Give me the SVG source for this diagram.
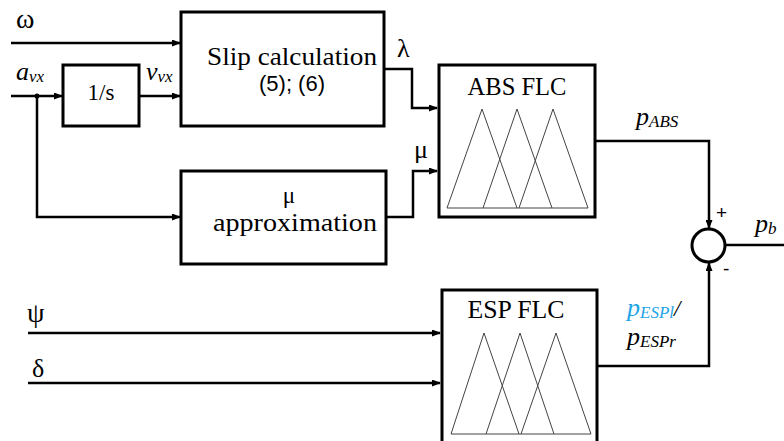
<svg xmlns="http://www.w3.org/2000/svg" width="784" height="441" viewBox="0 0 784 441">
  <defs>
    <marker id="arrow" markerUnits="userSpaceOnUse" markerWidth="9" markerHeight="7" refX="8" refY="3.5" orient="auto">
      <path d="M0,0 L9,3.5 L0,7 z" fill="#000"/>
    </marker>
  </defs>
  <style>
    .box { fill: #fff; stroke: #000; stroke-width: 3; }
    .wire { fill: none; stroke: #000; stroke-width: 2.5; }
    .arr { marker-end: url(#arrow); }
    .mf { fill: none; stroke: #444; stroke-width: 1; }
    .serif { font-family: "Liberation Serif", "DejaVu Serif", serif; fill: #000; }
    .sans { font-family: "Liberation Sans", Arial, sans-serif; fill: #000; }
    .it { font-style: italic; }
    .blue { fill: #1ea5e6; }
  </style>
  <rect width="784" height="441" fill="#fff"/>

  <!-- signal lines -->
  <g id="connectors">
    <path class="wire arr" d="M11,43 H180"/>
    <path class="wire arr" d="M11,96 H62"/>
    <circle cx="37" cy="96" r="2.5" fill="#000"/>
    <path class="wire arr" d="M37,96 V217 H180"/>
    <path class="wire arr" d="M139,96 H180"/>
    <path class="wire arr" d="M384,69 H412 V108 H437"/>
    <path class="wire arr" d="M386,217 H413 V171 H437"/>
    <path class="wire arr" d="M595,141 H709 V228"/>
    <path class="wire arr" d="M597,366 H709 V263"/>
    <path class="wire" d="M725,245 H784"/>
    <path class="wire arr" d="M28,333 H440"/>
    <path class="wire arr" d="M28,383 H440"/>
  </g>

  <!-- signal labels -->
  <g id="labels">
    <text class="serif" x="16" y="28" font-size="28">ω</text>
    <text class="serif it" x="16" y="80" font-size="26">a<tspan font-size="17" dy="2">vx</tspan></text>
    <text class="serif it" x="146" y="80" font-size="26">v<tspan font-size="17" dy="2">vx</tspan></text>
    <text class="serif" x="397" y="57" font-size="26">λ</text>
    <text class="serif" x="414" y="158" font-size="26">μ</text>
    <text class="serif it" x="636" y="125" font-size="26">p<tspan font-size="17" dy="2">ABS</tspan></text>
    <text class="serif it" x="755" y="232" font-size="26">p<tspan font-size="17" dy="2">b</tspan></text>
    <text class="sans" x="716" y="219" font-size="19">+</text>
    <text class="sans" x="723" y="275" font-size="19">-</text>
    <text class="serif it" x="627" y="316" font-size="26"><tspan class="blue">p</tspan><tspan class="blue" font-size="17" dy="2">ESPl</tspan><tspan dy="-2" font-size="23">/</tspan></text>
    <text class="serif it" x="627" y="345" font-size="26">p<tspan font-size="17" dy="2">ESPr</tspan></text>
    <text class="serif" x="27" y="322" font-size="28">ψ</text>
    <text class="serif" x="32" y="377" font-size="26">δ</text>
  </g>

  <g id="integrator">
    <rect class="box" x="63" y="65" width="76" height="61"/>
    <text class="serif" x="101" y="100" font-size="23" text-anchor="middle">1/s</text>
  </g>

  <g id="slip">
    <rect class="box" x="181" y="12" width="203" height="114"/>
    <text class="serif" x="292" y="65" font-size="26" text-anchor="middle" textLength="170" lengthAdjust="spacingAndGlyphs">Slip calculation</text>
    <text class="sans" x="292" y="91" font-size="22" text-anchor="middle">(5); (6)</text>
  </g>

  <g id="mu-approx">
    <rect class="box" x="181" y="171" width="205" height="93"/>
    <text class="serif" x="289" y="203" font-size="23" text-anchor="middle">μ</text>
    <text class="serif" x="295" y="231" font-size="26" text-anchor="middle" textLength="164" lengthAdjust="spacingAndGlyphs">approximation</text>
  </g>

  <g id="abs-flc">
    <rect class="box" x="439" y="65" width="156" height="152"/>
    <text class="serif" x="517" y="95" font-size="25" text-anchor="middle" textLength="99" lengthAdjust="spacingAndGlyphs">ABS FLC</text>
    <path class="mf" d="M447,208 L482,109 L517,208 M483,208 L517,109 L552,208 M519,208 L553,109 L588,208 M447,208 H588"/>
  </g>

  <g id="esp-flc">
    <rect class="box" x="442" y="290" width="155" height="160"/>
    <text class="serif" x="516" y="318" font-size="25" text-anchor="middle" textLength="97" lengthAdjust="spacingAndGlyphs">ESP FLC</text>
    <path class="mf" d="M451,434 L484,333 L519,434 M486,434 L520,333 L554,434 M521,434 L556,333 L591,434 M451,434 H591"/>
  </g>

  <g id="sum">
    <circle cx="708.5" cy="245.5" r="16.5" fill="#fff" stroke="#000" stroke-width="3"/>
  </g>
</svg>
